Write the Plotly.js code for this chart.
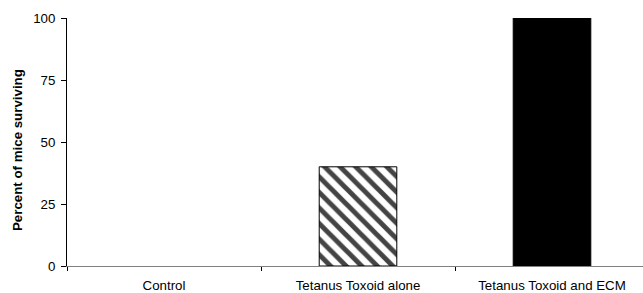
<!DOCTYPE html>
<html>
<head>
<meta charset="utf-8">
<script src="https://cdn.plot.ly/plotly-3.0.1.min.js"></script>
<style>html,body{margin:0;padding:0;background:#fff;}#chart{width:643px;height:293px;}</style>
</head>
<body>
<div id="chart"></div>
<script>
const categories = ["Control", "Tetanus Toxoid alone", "Tetanus Toxoid and ECM"];
const survival = [0, 40, 100];
const yTicks = [0, 25, 50, 75, 100];
const yTitle = "Percent of mice surviving";

const trace = {
  type: "bar",
  x: categories,
  y: survival,
  width: 0.4,
  marker: {
    color: ["#ffffff", "#ffffff", "#000000"],
    line: {color: "#000000", width: [0, 1, 1]},
    pattern: {
      shape: ["", "\\", ""],
      fgcolor: "#000000",
      fgopacity: 1,
      bgcolor: "#ffffff",
      size: 11,
      solidity: 0.45,
      fillmode: "overlay"
    }
  },
  hoverinfo: "skip"
};

const layout = {
  width: 643,
  height: 293,
  margin: {l: 67, r: 0, t: 18, b: 27},
  paper_bgcolor: "#ffffff",
  plot_bgcolor: "#ffffff",
  showlegend: false,
  font: {family: "Liberation Sans, Arial, sans-serif", size: 13.3, color: "#000000"},
  xaxis: {
    type: "category",
    range: [-0.5, 2.469],
    showline: true,
    linecolor: "#808080",
    linewidth: 1,
    ticks: "outside",
    tickson: "boundaries",
    ticklen: 4,
    tickcolor: "#000000",
    ticklabelstandoff: 7,
    showgrid: false,
    zeroline: false,
    automargin: false,
    tickfont: {size: 13.3}
  },
  yaxis: {
    range: [0, 100],
    tickvals: yTicks,
    ticktext: yTicks.map(String),
    showline: true,
    linecolor: "#000000",
    linewidth: 1,
    ticks: "outside",
    ticklen: 5,
    tickcolor: "#000000",
    ticklabelstandoff: 3,
    showgrid: false,
    zeroline: false,
    automargin: false,
    tickfont: {size: 13.3}
  },
  annotations: [{
    text: "<b>" + yTitle + "</b>",
    textangle: -90,
    xref: "paper", yref: "paper",
    x: (17 - 67) / 576, y: (266 - 150) / 248,
    xanchor: "center", yanchor: "middle",
    showarrow: false,
    font: {size: 13.3, color: "#000000"}
  }]
};

Plotly.newPlot("chart", [trace], layout, {staticPlot: true, displayModeBar: false});
</script>
</body>
</html>
